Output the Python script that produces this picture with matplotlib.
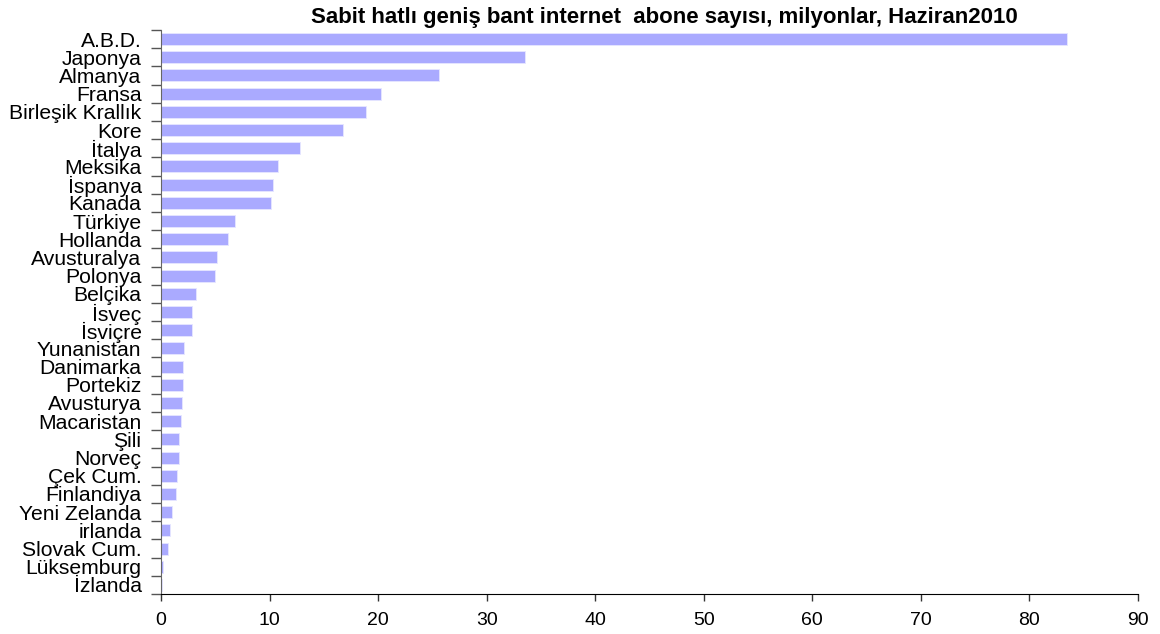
import matplotlib
matplotlib.use("Agg")
import matplotlib.pyplot as plt
import numpy as np

plt.rcParams['font.family'] = ['Liberation Sans', 'DejaVu Sans']

countries = ["A.B.D.", "Japonya", "Almanya", "Fransa", "Birleşik Krallık", "Kore",
             "İtalya", "Meksika", "İspanya", "Kanada", "Türkiye", "Hollanda",
             "Avusturalya", "Polonya", "Belçika", "İsveç", "İsviçre", "Yunanistan",
             "Danimarka", "Portekiz", "Avusturya", "Macaristan", "Şili", "Norveç",
             "Çek Cum.", "Finlandiya", "Yeni Zelanda", "irlanda", "Slovak Cum.",
             "Lüksemburg", "İzlanda"]
subscribers = [83.5, 33.5, 25.6, 20.3, 18.9, 16.8,
               12.8, 10.8, 10.3, 10.1, 6.8, 6.2,
               5.2, 5.0, 3.2, 2.9, 2.85, 2.1,
               2.05, 2.0, 1.9, 1.85, 1.7, 1.65,
               1.45, 1.4, 1.05, 0.85, 0.6,
               0.15, 0.08]
title = "Sabit hatlı geniş bant internet  abone sayısı, milyonlar, Haziran2010"

fig = plt.figure(figsize=(11.6, 6.34), dpi=100)
ax = fig.add_axes([161/1160, 1-594/634, (1138-161)/1160, (594-30)/634])

y = np.arange(len(countries))
ax.barh(y, subscribers, height=0.66, color='#aaaaff', edgecolor='#e6e6ff', linewidth=0.6)

ax.set_xlim(0, 90)
ax.set_ylim(len(countries)-0.5, -0.5)
ax.set_xticks(np.arange(0, 91, 10))
ax.tick_params(axis='x', direction='out', length=5, width=1, labelsize=14, pad=8, color='#333333')

ax.set_yticks(y)
ax.set_yticklabels(countries, fontsize=15.2)
ax.tick_params(axis='y', which='major', length=0, pad=14)
ax.set_yticks(np.arange(-0.5, len(countries), 1), minor=True)
ax.tick_params(axis='y', which='minor', direction='out', length=7, width=1, color='#555555')

for s in ['top', 'right']:
    ax.spines[s].set_visible(False)
ax.spines['left'].set_color('#666666')
ax.spines['bottom'].set_color('black')

fig.text(664/1160, 1-17/634, title, ha='center', va='center', fontsize=16, fontweight='bold')

fig.savefig('out.png', dpi=100)
